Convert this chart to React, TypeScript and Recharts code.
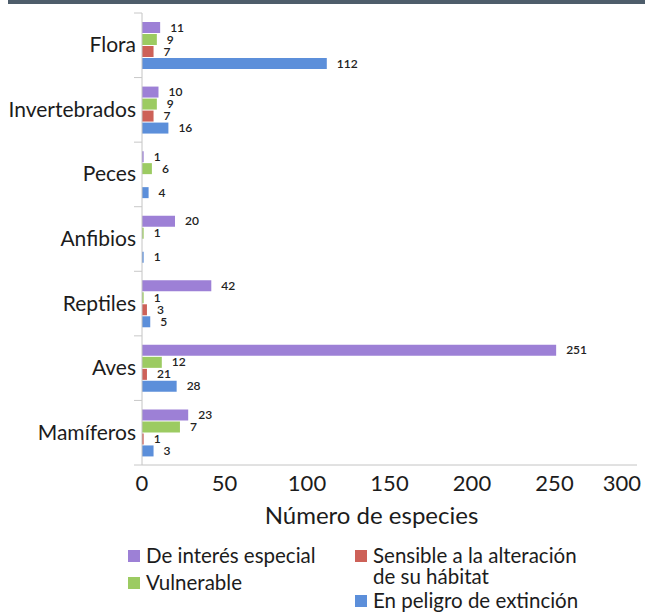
import { BarChart, Bar, XAxis, YAxis, LabelList } from 'recharts';

const categories = ['Flora', 'Invertebrados', 'Peces', 'Anfibios', 'Reptiles', 'Aves', 'Mamíferos'];

// bar lengths as drawn
const especial = [11, 10, 1, 20, 42, 251, 28];
const vulnerable = [9, 9, 6, 1, 1, 12, 23];
const sensible = [7, 7, 0, 0, 3, 3, 1];
const peligro = [112, 16, 4, 1, 5, 21, 7];

// printed labels next to the bars
const especialLabels = ['11', '10', '1', '20', '42', '251', '23'];
const vulnerableLabels = ['9', '9', '6', '1', '1', '12', '7'];
const sensibleLabels = ['7', '7', '', '', '3', '21', '1'];
const peligroLabels = ['112', '16', '4', '1', '5', '28', '3'];

const xTicks = [0, 50, 100, 150, 200, 250, 300];

const series = [
  { key: 'especial', name: 'De interés especial', color: '#9d80d6' },
  { key: 'vulnerable', name: 'Vulnerable', color: '#9ccb62' },
  { key: 'sensible', name: 'Sensible a la alteración de su hábitat', color: '#cd6158' },
  { key: 'peligro', name: 'En peligro de extinción', color: '#5c8fda' },
];

const data = categories.map((c, i) => ({
  name: c,
  especial: especial[i],
  vulnerable: vulnerable[i],
  sensible: sensible[i],
  peligro: peligro[i],
  especialLabel: especialLabels[i],
  vulnerableLabel: vulnerableLabels[i],
  sensibleLabel: sensibleLabels[i],
  peligroLabel: peligroLabels[i],
}));

const FONT = 'Lato, "Open Sans", sans-serif';
const W = 645;
const H = 613;
const PLOT_TOP = 13;
const PLOT_BOTTOM = 465;
const band = (PLOT_BOTTOM - PLOT_TOP) / categories.length;

const CategoryTick = ({ x, y, payload, index }: any) => {
  const axisX = x + 8;
  return (
    <g>
      <line x1={axisX - 8} x2={axisX} y1={y - band / 2} y2={y - band / 2} stroke="#c8c8c8" />
      {index === categories.length - 1 && (
        <line x1={axisX - 8} x2={axisX} y1={y + band / 2} y2={y + band / 2} stroke="#c8c8c8" />
      )}
      <text x={x + 2} y={y} dy={7} textAnchor="end" fontSize={21} fill="#1c1c1c" fontFamily={FONT}>
        {payload.value}
      </text>
    </g>
  );
};

// Excel-style: keep the last tick label inside the picture
const NumberTick = ({ x, y, payload }: any) => {
  const maxX = W - 4;
  const overflow = x + 19 > maxX;
  return (
    <text
      x={overflow ? maxX : x}
      y={y}
      dy={18}
      textAnchor={overflow ? 'end' : 'middle'}
      fontSize={22}
      fill="#1c1c1c"
      fontFamily={FONT}
    >
      {payload.value}
    </text>
  );
};

const ValueLabel = (props: any) => {
  const { x, y, width, height, value } = props;
  if (!value) return null;
  return (
    <text x={x + width + 10} y={y + height / 2} dy={4} fontSize={12} fontWeight={600} fill="#222" fontFamily={FONT}>
      {value}
    </text>
  );
};

const legendItems = [
  { s: series[0], left: 128, top: 545, lines: ['De interés especial'] },
  { s: series[1], left: 128, top: 572, lines: ['Vulnerable'] },
  { s: series[2], left: 355, top: 545, lines: ['Sensible a la alteración', 'de su hábitat'] },
  { s: series[3], left: 355, top: 590, lines: ['En peligro de extinción'] },
];

export default function App() {
  return (
    <div style={{ position: 'relative', width: W, height: H, background: '#fff', fontFamily: FONT, overflow: 'hidden' }}>
      <style>{'html, body { margin: 0; padding: 0; }'}</style>
      <div style={{ position: 'absolute', left: 8, top: 0, width: W - 8, height: 4, background: '#4e5d6b' }} />
      <BarChart
        width={W}
        height={H}
        data={data}
        layout="vertical"
        margin={{ top: PLOT_TOP, right: 8, left: 0, bottom: 83 }}
        barSize={11}
        barGap={1}
      >
        <XAxis
          type="number"
          domain={[0, 300]}
          ticks={xTicks}
          interval={0}
          height={65}
          tickLine={false}
          axisLine={{ stroke: '#c4c4c4' }}
          tick={<NumberTick />}
          label={{
            value: 'Número de especies',
            position: 'insideBottom',
            offset: 6,
            dx: -18,
            fontSize: 24,
            fill: '#1c1c1c',
            fontFamily: FONT,
          }}
        />
        <YAxis
          type="category"
          dataKey="name"
          width={142}
          tickLine={false}
          axisLine={{ stroke: '#c4c4c4' }}
          interval={0}
          tick={<CategoryTick />}
        />
        {series.map((s) => (
          <Bar key={s.key} dataKey={s.key} name={s.name} fill={s.color} isAnimationActive={false}>
            <LabelList dataKey={`${s.key}Label`} content={<ValueLabel />} />
          </Bar>
        ))}
      </BarChart>
      {legendItems.map((it) => (
        <div key={it.s.key} style={{ position: 'absolute', left: it.left, top: it.top, display: 'flex', alignItems: 'flex-start' }}>
          <div style={{ width: 12, height: 12, background: it.s.color, marginTop: 5, marginRight: 6 }} />
          <div style={{ fontSize: 20.5, lineHeight: '21px', color: '#1c1c1c', whiteSpace: 'nowrap' }}>
            {it.lines.map((l) => (
              <div key={l}>{l}</div>
            ))}
          </div>
        </div>
      ))}
    </div>
  );
}
